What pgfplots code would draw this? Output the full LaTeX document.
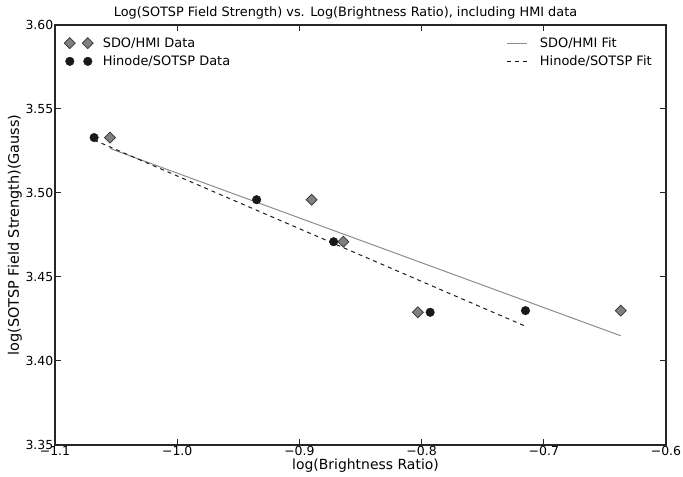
\documentclass[border=0pt]{standalone}
\usepackage{pgfplots}
\pgfplotsset{compat=1.18}
\usepackage{fontspec}
\setmainfont{DejaVu Sans}
\begin{document}
\begin{tikzpicture}[x=1bp,y=1bp]
\begin{axis}[
  scale only axis, width=611bp, height=420bp,
  xmin=-1.1, xmax=-0.6, ymin=3.35, ymax=3.60,
  hide axis,
  legend style={draw=none, fill=none, at={(0.985,0.98)}, anchor=north east,
    font=\fontsize{13}{15}\selectfont, row sep=3bp, cells={anchor=west}},
  legend image code/.code={\draw[#1] (0bp,0bp) -- (20bp,0bp); \path[draw=none,fill=none] (0bp,0bp) -- (31bp,0bp);},
]
\addplot[color=black!45, line width=1bp] coordinates {(-1.055,3.5265) (-0.637,3.415)};
\addlegendentry{SDO/HMI Fit}
\addplot[color=black!90, line width=1bp, dash pattern=on 4bp off 4bp] coordinates {(-1.068,3.5315) (-0.716,3.421)};
\addlegendentry{Hinode/SOTSP Fit}
\end{axis}
\begin{axis}[
  scale only axis, width=611bp, height=420bp,
  xmin=-1.1, xmax=-0.6, ymin=3.35, ymax=3.60,
  axis line style={line width=1.5bp, black!85},
  tick style={line width=1bp, black!85},
  major tick length=6bp, tick align=inside,
  xtick={-1.1,-1.0,-0.9,-0.8,-0.7,-0.6},
  xticklabels={−1.1,−1.0,−0.9,−0.8,−0.7,−0.6},
  ytick={3.35,3.40,3.45,3.50,3.55,3.60},
  yticklabels={3.35,3.40,3.45,3.50,3.55,3.60},
  ticklabel style={font=\fontsize{12.5}{14}\selectfont, inner sep=1.5bp},
  every axis title/.style={at={(0.5,1)}, anchor=center, yshift=12bp, xshift=-15bp, font=\fontsize{12.9}{15}\selectfont},
  every axis x label/.style={at={(0.5,0)}, anchor=center, yshift=-21bp, xshift=5bp, font=\fontsize{14}{16}\selectfont},
  every axis y label/.style={at={(-0.0655,0.5)}, rotate=90, anchor=center, font=\fontsize{14.5}{16}\selectfont},
  title={Log(SOTSP Field Strength) vs. Log(Brightness Ratio), including HMI data},
  xlabel={log(Brightness Ratio)},
  ylabel={log(SOTSP Field Strength)(Gauss)},
  legend style={draw=none, fill=none, at={(0.01,0.98)}, anchor=north west,
    font=\fontsize{13}{15}\selectfont, row sep=3bp, cells={anchor=west}},
  legend image code/.code={\draw[#1] plot coordinates {(0bp,0bp)}; \draw[#1] plot coordinates {(18bp,0bp)}; \path[draw=none,fill=none] (0bp,0bp) -- (31bp,0bp);},
]
\addplot[only marks, mark=square*, mark size=3.9bp, mark options={rotate=45, fill=black!50, draw=black!80, line width=0.7bp}]
  coordinates {(-1.055,3.533) (-0.890,3.496) (-0.864,3.471) (-0.803,3.429) (-0.637,3.430)};
\addlegendentry{SDO/HMI Data}
\addplot[only marks, mark=*, mark size=4.3bp, mark options={fill=black!90, draw=black!90}]
  coordinates {(-1.068,3.533) (-0.935,3.496) (-0.872,3.471) (-0.793,3.429) (-0.715,3.430)};
\addlegendentry{Hinode/SOTSP Data}
\end{axis}
\pgfresetboundingbox
\useasboundingbox (-55bp,-32bp) rectangle (628bp,445bp);
\end{tikzpicture}
\end{document}
